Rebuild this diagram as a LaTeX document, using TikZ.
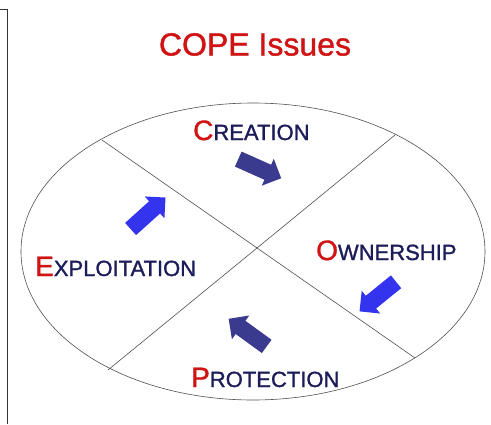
\documentclass[tikz,border=0pt]{standalone}
\usepackage{fontspec}
\setmainfont[FakeBold=1.2]{Liberation Sans}
\newfontfamily\heavyfont[FakeBold=1.2]{Liberation Sans}
\usetikzlibrary{shapes.arrows}
\definecolor{copered}{HTML}{D01414}
\definecolor{copenavy}{HTML}{1C1C5A}
\definecolor{arrdark}{HTML}{3A3A8E}
\definecolor{arrbright}{HTML}{3434EE}
\definecolor{linegray}{HTML}{505050}
\tikzset{
  lbl/.style={inner sep=0pt, anchor=base west, text=copenavy, font=\heavyfont},
  blockarrow/.style={shape=single arrow, draw=none, inner xsep=0pt, inner ysep=8pt,
    single arrow head extend=6.5pt, single arrow head indent=0pt, minimum height=47pt},
  darkarr/.style={blockarrow, fill=arrdark},
  brightarr/.style={blockarrow, fill=arrbright},
  sector/.style={draw=linegray, line width=0.6pt}
}
\newcommand{\capword}[2]{{\fontsize{28}{28}\selectfont\color{copered}#1}{\fontsize{22}{22}\selectfont #2}}
\begin{document}
\begin{tikzpicture}[x=1pt,y=-1pt]
\useasboundingbox (0,0) rectangle (491,424);
\fill[white] (0,0) rectangle (491,424);
% frame line
\draw[draw=black!80, line width=1pt] (0,9.5) -- (7.3,9.5) -- (7.3,424);
% title
\node[inner sep=0pt, anchor=base, text=copered, font=\heavyfont] (title) at (255,55.5)
  {\fontsize{32}{32}\selectfont COPE Issues};
% ellipse and dividing lines
\draw[sector] (253,251.5) ellipse [x radius=232, y radius=148.5];
\coordinate (l1a) at (102,140);
\coordinate (l1b) at (415,358);
\coordinate (l2a) at (395,135);
\coordinate (l2b) at (108,370);
\draw[sector] (l1a) -- (l1b);
\draw[sector] (l2a) -- (l2b);
% labels
\node[lbl] (creation) at (193,140) {\capword{C}{REATION}};
\node[lbl] (exploit) at (35,276) {\capword{E}{XPLOITATION}};
\node[lbl] (owner) at (316,260) {\capword{O}{WNERSHIP}};
\node[lbl] (protect) at (191,387) {\capword{P}{ROTECTION}};
% block arrows
\node[darkarr, rotate=-24] (a1) at (256,167) {};
\node[brightarr, rotate=-141] (a2) at (381,294) {};
\node[darkarr, rotate=144] (a3) at (251,335) {};
\node[brightarr, rotate=42] (a4) at (145,216) {};
\end{tikzpicture}
\end{document}
